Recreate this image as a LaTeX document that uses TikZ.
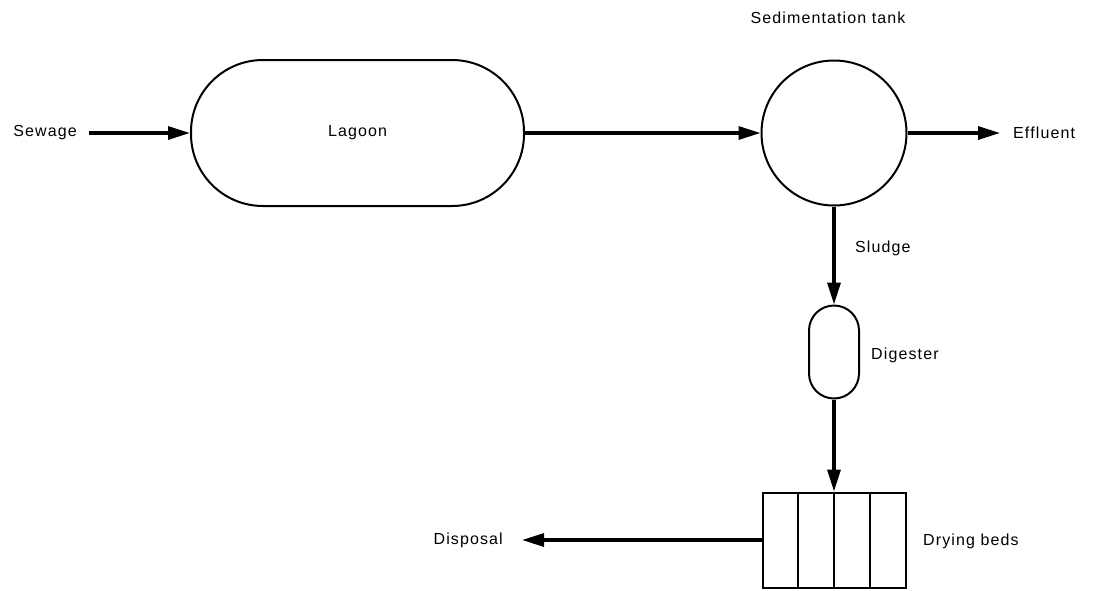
\documentclass[tikz,border=0pt]{standalone}
\usepackage{fontspec}
\setmainfont{Liberation Sans}[LetterSpace=7]
\usetikzlibrary{arrows.meta,calc}
\begin{document}
\begin{tikzpicture}[x=1pt,y=-1pt,
  lbl/.style={inner sep=0pt,font=\fontsize{16}{18}\selectfont},
  shp/.style={draw,line width=2pt,inner sep=0pt},
  flow/.style={line width=3.2pt,-{Triangle[length=22pt,width=13pt]}},
]
\useasboundingbox (0,0) rectangle (1101,590);
\node[shp,rounded corners=72pt,minimum width=333pt,minimum height=146pt] (lagoon) at (357.5,133) {};
\node[lbl] at (lagoon.center) {Lagoon};
\node[shp,circle,minimum size=145pt] (tank) at (834,133) {};
\node[shp,rounded corners=25pt,minimum width=50pt,minimum height=93pt] (dig) at (834,352) {};
\node[shp,minimum width=143pt,minimum height=95pt] (beds) at (834,540) {};
\foreach \f in {0.25,0.5,0.75}
  \draw[line width=1.6pt] ($(beds.north west)!\f!(beds.north east)$) -- ($(beds.south west)!\f!(beds.south east)$);
% labels
\node[lbl] (sewage) at (45,133) {Sewage};
\node[lbl] (title) at (828,18) {Sedimentation tank};
\node[lbl,anchor=west] (effl) at (1013,133) {Effluent};
\node[lbl,anchor=west] (sludge) at (855,248) {Sludge};
\node[lbl,anchor=west] (diglbl) at (871,355) {Digester};
\node[lbl,anchor=west] (bedslbl) at (923,541) {Drying beds};
\node[lbl,anchor=east] (disp) at (503,540) {Disposal};
% flows
\draw[flow,shorten <=12pt] (sewage.east) -- (lagoon.west);
\draw[flow] (lagoon.east) -- (tank.west);
\draw[flow,shorten >=13pt] (tank.east) -- (effl.west);
\draw[flow] (tank.south) -- (dig.north);
\draw[flow] (dig.south) -- (beds.north);
\draw[flow,shorten >=19pt] (beds.west) -- (disp.east);
\end{tikzpicture}
\end{document}
